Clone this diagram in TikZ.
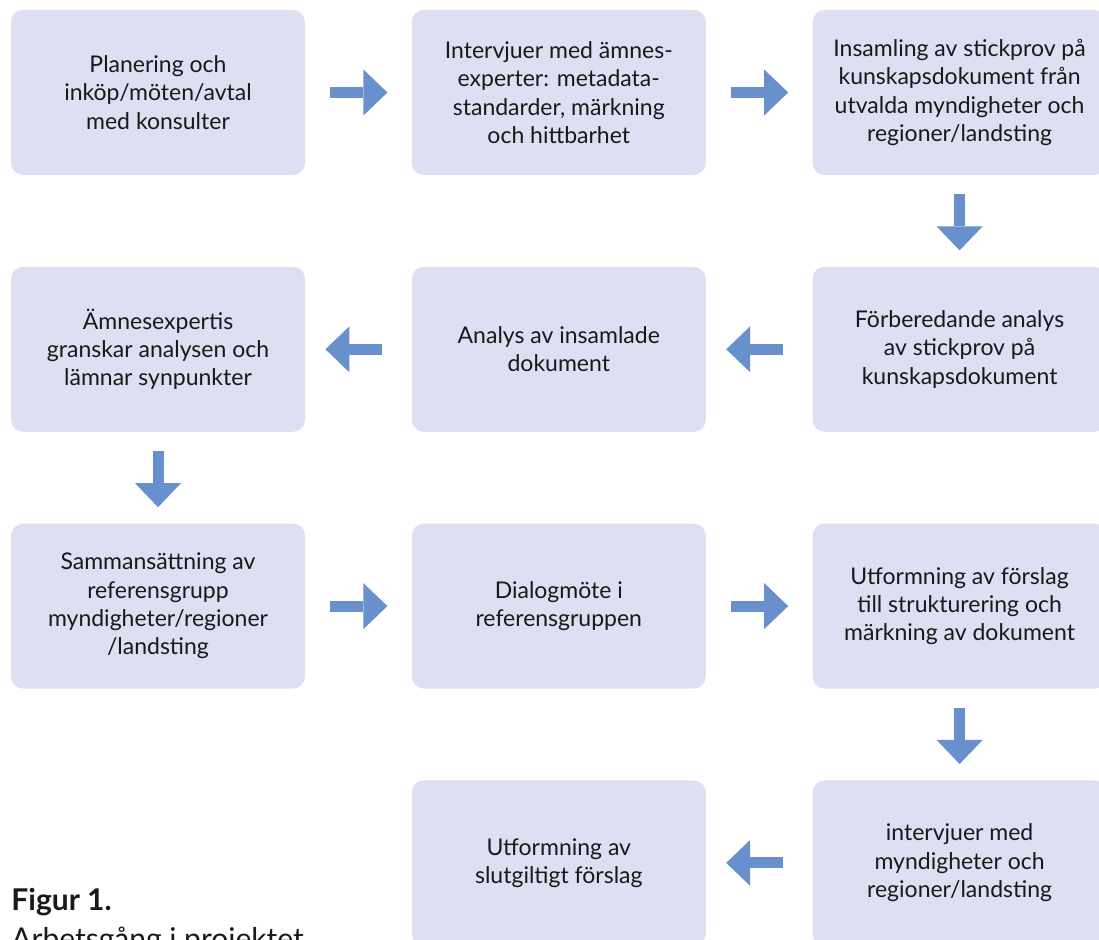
\documentclass[tikz,border=0pt]{standalone}
\usepackage{fontspec}
\setmainfont{Lato}
\usetikzlibrary{arrows.meta,positioning}
\definecolor{boxfill}{RGB}{220,224,242}
\definecolor{arrowblue}{RGB}{104,144,204}
\tikzset{
  box/.style={fill=boxfill, rounded corners=6pt, minimum width=147pt,
    minimum height=82.5pt, inner sep=0pt, align=center,
    font=\fontsize{11.5}{14.15}\selectfont, text=black!90},
  blockarrow/.style={arrowblue, line width=5.5pt,
    -{Triangle[width=23pt,length=12pt,line width=0pt]}},
  caption/.style={anchor=base west, inner sep=0pt, text=black!90}
}

\begin{document}
\begin{tikzpicture}
  \def\hgap{53pt}    % space between columns
  \def\vgap{45.5pt}  % space between rows
  \clip (0,0) rectangle (549.5pt,-470pt);
  \useasboundingbox (0,0) rectangle (549.5pt,-470pt);
  % first row, left to right
  \node[box] (plan) at (79pt,-46.25pt) {Planering och\\inköp/möten/avtal\\med konsulter};
  \node[box, right=\hgap of plan] (expert) {Intervjuer med ämnes-\\experter: metadata-\\standarder, märkning\\och hittbarhet};
  \node[box, right=\hgap of expert] (stickprov) {Insamling av stickprov på\\kunskapsdokument från\\utvalda myndigheter och\\regioner/landsting};
  % second row, right to left
  \node[box, below=\vgap of stickprov] (forberedande) {Förberedande analys\\av stickprov på\\kunskapsdokument};
  \node[box, below=\vgap of expert] (analys) {Analys av insamlade\\dokument};
  \node[box, below=\vgap of plan] (granskning) {Ämnesexpertis\\granskar analysen och\\lämnar synpunkter};
  % third row, left to right
  \node[box, below=\vgap of granskning] (referensgrupp) {Sammansättning av\\referensgrupp\\myndigheter/regioner\\/landsting};
  \node[box, below=\vgap of analys] (dialog) {Dialogmöte i\\referensgruppen};
  \node[box, below=\vgap of forberedande] (strukturering) {Utformning av förslag\\till strukturering och\\märkning av dokument};
  % fourth row, right to left
  \node[box, below=\vgap of strukturering] (myndigheter) {intervjuer med\\myndigheter och\\regioner/landsting};
  \node[box, below=\vgap of dialog] (slutligt) {Utformning av\\slutgiltigt förslag};
  %
  \draw[blockarrow, shorten <=12.5pt, shorten >=12pt] (plan) -- (expert);
  \draw[blockarrow, shorten <=12.5pt, shorten >=12pt] (expert) -- (stickprov);
  \draw[blockarrow, shorten <=9.5pt, shorten >=8pt] (stickprov) -- (forberedande);
  \draw[blockarrow, shorten <=14.5pt, shorten >=10pt] (forberedande) -- (analys);
  \draw[blockarrow, shorten <=14.5pt, shorten >=10pt] (analys) -- (granskning);
  \draw[blockarrow, shorten <=9.5pt, shorten >=8pt] (granskning) -- (referensgrupp);
  \draw[blockarrow, shorten <=12.5pt, shorten >=12pt] (referensgrupp) -- (dialog);
  \draw[blockarrow, shorten <=12.5pt, shorten >=12pt] (dialog) -- (strukturering);
  \draw[blockarrow, shorten <=9.5pt, shorten >=8pt] (strukturering) -- (myndigheter);
  \draw[blockarrow, shorten <=14.5pt, shorten >=10pt] (myndigheter) -- (slutligt);
  % caption under the left column
  \node[caption, font=\fontsize{15}{17}\selectfont\bfseries] (figur) at (5.5pt,-455.5pt) {Figur 1.};
  \node[caption, font=\fontsize{15}{17}\selectfont] (rubrik) at (5.5pt,-475pt) {Arbetsgång i projektet};
\end{tikzpicture}
\end{document}
